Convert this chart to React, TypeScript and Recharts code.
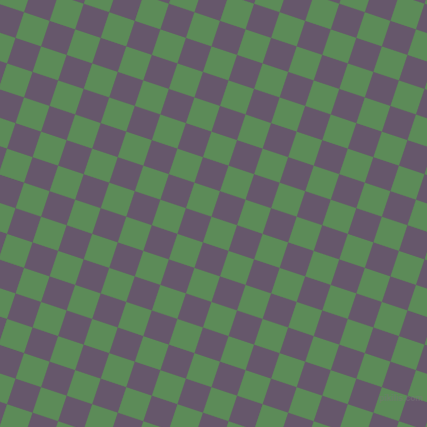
import React from 'react'
import { BarChart, Bar, XAxis, YAxis, Cell } from 'recharts'

// lattice indices of the tilted checkerboard (columns run along the tilted x, rows along the tilted y)
const COLS = [-1, 0, 1, 2, 3, 4, 5, 6, 7, 8, 9, 10, 11, 12, 13, 14, 15, 16, 17, 18, 19, 20, 21]
const ROWS = [-6, -5, -4, -3, -2, -1, 0, 1, 2, 3, 4, 5, 6, 7, 8, 9, 10, 11, 12, 13, 14, 15]
const SWATCH = ['#66576b', '#5c8b58'] // even parity purple, odd parity green
const WATERMARK = 'pikilis.com'

const SIZE = 427
const PERIOD = 85.2 // repeat length along the page edges
const TILT = Math.atan(1 / 3)
const SIDE = PERIOD / Math.sqrt(10)
const U0 = 0 / Math.sqrt(10)
const V0 = 12 / Math.sqrt(10)
const CELL = 40

const parity = (n: number) => ((n % 2) + 2) % 2

export default function App() {
  const data = COLS.map(c => {
    const row: Record<string, number> = { col: c }
    ROWS.forEach(r => { row[`r${r}`] = 1 })
    return row
  })
  const stackOrder = [...ROWS].reverse() // first bar sits at the bottom

  const uStart = U0 + SIDE * COLS[0]
  const vStart = V0 + SIDE * ROWS[0]
  const k = SIDE / CELL

  return (
    <div style={{ position: 'fixed', left: 0, top: 0, width: SIZE, height: SIZE, overflow: 'hidden', background: '#61705f' }}>
      <div style={{
        position: 'absolute', left: 0, top: 0, transformOrigin: '0 0',
        transform: `rotate(${TILT}rad) translate(${uStart}px, ${vStart}px) scale(${k})`,
      }}>
        <BarChart width={COLS.length * CELL} height={ROWS.length * CELL} data={data}
          margin={{ top: 0, right: 0, bottom: 0, left: 0 }} barCategoryGap={0} barGap={0}>
          <XAxis dataKey="col" hide />
          <YAxis hide domain={[0, ROWS.length]} />
          {stackOrder.map(r => (
            <Bar key={r} dataKey={`r${r}`} stackId="a" isAnimationActive={false}>
              {COLS.map(c => <Cell key={c} fill={SWATCH[parity(c + r)]} stroke={SWATCH[parity(c + r)]} strokeWidth={0.6} />)}
            </Bar>
          ))}
        </BarChart>
      </div>
      <div style={{
        position: 'absolute', left: 379, top: 393, fontFamily: 'Arial, "Liberation Sans", sans-serif',
        fontSize: 8.5, fontWeight: 'bold', color: 'rgba(120,120,120,0.5)', lineHeight: '10px', whiteSpace: 'nowrap',
      }}>{WATERMARK}</div>
    </div>
  )
}
